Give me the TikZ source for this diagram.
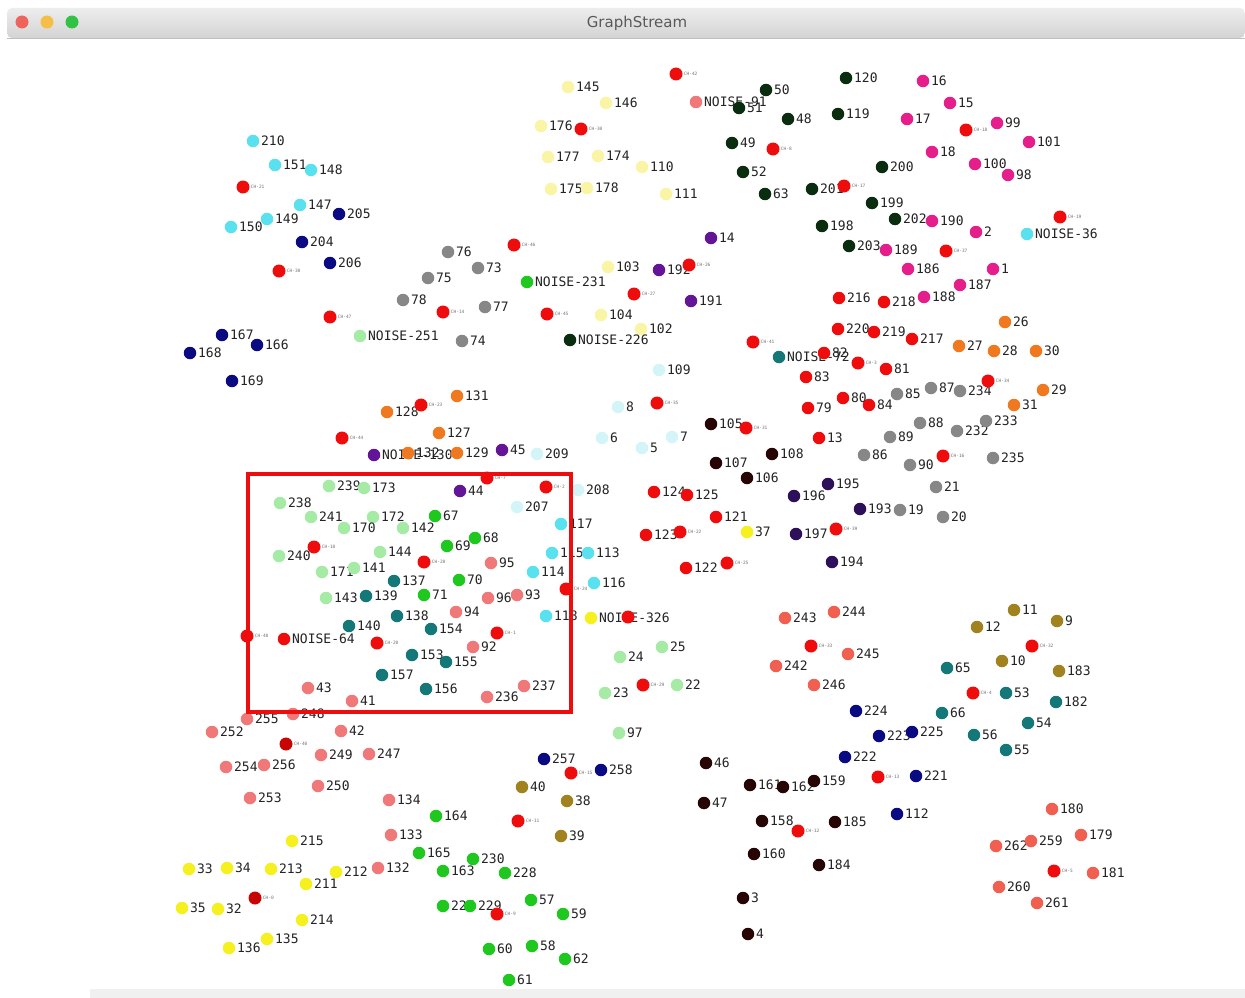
\documentclass[tikz,border=0pt]{standalone}
\usepackage{fontspec}
\newfontfamily\monofnt{DejaVu Sans Mono}
\newfontfamily\titlefnt{DejaVu Sans}

\definecolor{cCyan}{RGB}{90,225,240}
\definecolor{cNavy}{RGB}{10,10,130}
\definecolor{cGray}{RGB}{135,135,135}
\definecolor{cLYellow}{RGB}{250,245,165}
\definecolor{cRed}{RGB}{238,12,12}
\definecolor{cDkRed}{RGB}{200,5,5}
\definecolor{cDkGreen}{RGB}{10,45,15}
\definecolor{cPurple}{RGB}{100,20,150}
\definecolor{cMagenta}{RGB}{230,30,140}
\definecolor{cOrange}{RGB}{240,120,30}
\definecolor{cTeal}{RGB}{20,120,120}
\definecolor{cLCyan}{RGB}{212,245,248}
\definecolor{cLGreen}{RGB}{165,235,165}
\definecolor{cGreen}{RGB}{30,200,30}
\definecolor{cSalmon}{RGB}{240,120,120}
\definecolor{cBrown}{RGB}{40,5,5}
\definecolor{cIndigo}{RGB}{45,15,90}
\definecolor{cYellow}{RGB}{245,240,30}
\definecolor{cOlive}{RGB}{160,130,30}
\definecolor{cCoral}{RGB}{240,95,80}
\definecolor{txt}{RGB}{35,35,35}

\tikzset{
  dot/.style={circle, inner sep=0pt, minimum size=12.5pt, draw=none},
  lbl/.style={font=\monofnt\fontsize{13}{15}\selectfont, text=txt, inner sep=0pt, label distance=1.5pt},
  chlbl/.style={font=\monofnt\fontsize{4.5}{5}\selectfont, text=black!55, inner sep=0pt, label distance=1pt},
  frame/.style={draw=cRed, line width=4pt},
}

% one cluster of labelled dots: colour, name prefix, list x/y/label
\newcommand\dotgroup[3]{%
  \foreach \px/\py/\t in {#3} {
    \node[dot, fill=#1, label={[lbl]0:\t}] (#2\t) at (\px,\py) {};
  }}
% cluster heads: small red dots with tiny labels
\newcommand\headgroup[2]{%
  \foreach \px/\py/\t in {#2} {
    \node[dot, minimum size=13pt, fill=#1, label={[chlbl]0:\t}] (h\t) at (\px,\py) {};
  }}

\begin{document}
\begin{tikzpicture}[x=1pt, y=-1pt]
\useasboundingbox (0,0) rectangle (1245,998);
\fill[white] (0,0) rectangle (1245,998);

% window title bar
\shade[top color=black!7, bottom color=black!17, rounded corners=5pt]
  (7,38) -- (7,8) -- (1245,8) -- (1245,38) -- cycle;
\draw[black!25, line width=0.8pt] (7,38) -- (1245,38);
\node[dot, minimum size=13pt, fill={rgb,255:red,238;green,100;blue,92}] (close) at (22,22) {};
\node[dot, minimum size=13pt, fill={rgb,255:red,245;green,190;blue,70}] (minim) at (47,22) {};
\node[dot, minimum size=13pt, fill={rgb,255:red,50;green,195;blue,70}] (zoom) at (72,22) {};
\node[font=\titlefnt\fontsize{15}{18}\selectfont, text=black!65] (title) at (637,23) {GraphStream};
\fill[black!6] (90,989) rectangle (1245,998);

% clusters
\dotgroup{cSalmon}{sa}{696/102/NOISE-91, 491/563/95, 488/598/96, 517/595/93, 456/612/94, 473/647/92,
  524/686/237, 487/697/236, 308/688/43, 352/701/41, 247/719/255, 293/714/248, 212/732/252,
  341/731/42, 321/755/249, 369/754/247, 226/767/254, 264/765/256, 318/786/250, 250/798/253,
  389/800/134, 391/835/133, 378/868/132}
\dotgroup{cPurple}{pu}{711/238/14, 659/270/192, 691/301/191, 460/491/44, 502/450/45, 374/455/NOISE-130}
\dotgroup{cTeal}{te}{779/357/NOISE-72, 394/581/137, 366/596/139, 397/616/138, 349/626/140, 431/629/154,
  412/655/153, 446/662/155, 382/675/157, 426/689/156, 947/668/65, 942/713/66, 1006/693/53,
  974/735/56, 1006/750/55, 1028/723/54, 1056/702/182}
\dotgroup{cYellow}{ye}{747/532/37, 591/618/NOISE-326, 292/841/215, 189/869/33, 227/868/34, 271/869/213,
  336/872/212, 306/884/211, 182/908/35, 218/909/32, 302/920/214, 267/939/135, 229/948/136}
\dotgroup{cCyan}{cy}{253/141/210, 275/165/151, 311/170/148, 300/205/147, 267/219/149, 231/227/150,
  561/524/117, 552/553/115, 588/553/113, 533/572/114, 594/583/116, 546/616/118, 1027/234/NOISE-36}
\dotgroup{cNavy}{nv}{339/214/205, 302/242/204, 330/263/206, 222/335/167, 257/345/166, 190/353/168,
  232/381/169, 544/759/257, 601/770/258, 856/711/224, 879/736/223, 912/732/225, 845/757/222,
  916/776/221, 897/814/112}
\dotgroup{cGray}{gr}{448/252/76, 478/268/73, 428/278/75, 403/300/78, 485/307/77, 462/341/74,
  897/394/85, 931/388/87, 960/391/234, 920/423/88, 957/431/232, 986/421/233, 890/437/89,
  864/455/86, 910/465/90, 993/458/235, 936/487/21, 900/510/19, 943/517/20}
\dotgroup{cLYellow}{ly}{568/87/145, 606/103/146, 541/126/176, 548/157/177, 598/156/174, 642/167/110,
  551/189/175, 587/188/178, 666/194/111, 608/267/103, 601/315/104, 641/329/102}
\dotgroup{cDkGreen}{dg}{766/90/50, 739/108/51, 788/119/48, 846/78/120, 838/114/119, 732/143/49,
  743/172/52, 765/194/63, 882/167/200, 812/189/201, 872/203/199, 895/219/202, 822/226/198,
  849/246/203, 570/340/NOISE-226}
\dotgroup{cMagenta}{mg}{923/81/16, 950/103/15, 907/119/17, 997/123/99, 1029/142/101, 932/152/18,
  975/164/100, 1008/175/98, 932/221/190, 976/232/2, 886/250/189, 908/269/186, 993/269/1,
  960/285/187, 924/297/188}
\dotgroup{cOrange}{or}{1005/322/26, 959/346/27, 994/351/28, 1036/351/30, 1043/390/29, 1014/405/31,
  387/412/128, 457/396/131, 439/433/127, 408/453/132, 457/453/129}
\dotgroup{cLCyan}{lc}{659/370/109, 618/407/8, 602/438/6, 672/437/7, 642/448/5, 537/454/209,
  578/490/208, 517/507/207}
\dotgroup{cLGreen}{lg}{360/336/NOISE-251, 329/486/239, 364/488/173, 280/503/238, 311/517/241,
  373/517/172, 344/528/170, 403/528/142, 279/556/240, 380/552/144, 322/572/171, 354/568/141,
  326/598/143, 620/657/24, 662/647/25, 605/693/23, 677/685/22, 619/733/97}
\dotgroup{cGreen}{gn}{527/282/NOISE-231, 435/516/67, 447/546/69, 475/538/68, 459/580/70, 424/595/71,
  436/816/164, 419/853/165, 443/871/163, 473/859/230, 505/873/228, 443/906/227, 470/906/229,
  531/900/57, 563/914/59, 489/949/60, 532/946/58, 565/959/62, 509/980/61}
\dotgroup{cBrown}{br}{711/424/105, 716/463/107, 772/454/108, 747/478/106, 706/763/46, 704/803/47,
  750/785/161, 783/787/162, 814/781/159, 762/821/158, 835/822/185, 754/854/160, 819/865/184,
  743/898/3, 748/934/4}
\dotgroup{cIndigo}{in}{828/484/195, 794/496/196, 860/509/193, 796/534/197, 832/562/194}
\dotgroup{cOlive}{ol}{522/787/40, 567/801/38, 561/836/39, 1014/610/11, 1057/621/9, 977/627/12,
  1002/661/10, 1059/671/183}
\dotgroup{cCoral}{co}{785/618/243, 834/612/244, 848/654/245, 776/666/242, 814/685/246, 1052/809/180,
  1081/835/179, 996/846/262, 1031/841/259, 1093/873/181, 999/887/260, 1037/903/261}
\dotgroup{cRed}{rd}{839/298/216, 884/302/218, 838/329/220, 874/332/219, 912/339/217, 824/353/82,
  886/369/81, 806/377/83, 843/398/80, 869/405/84, 808/408/79, 819/438/13, 654/492/124,
  687/495/125, 716/517/121, 646/535/123, 686/568/122, 284/639/NOISE-64}

% cluster heads
\headgroup{cRed}{676/74/CH-42, 581/129/CH-30, 773/149/CH-8, 966/130/CH-18, 844/186/CH-17,
  1060/217/CH-19, 946/251/CH-37, 514/245/CH-46, 689/265/CH-26, 634/294/CH-27, 547/314/CH-45,
  443/312/CH-14, 330/317/CH-47, 243/187/CH-21, 279/271/CH-38, 753/342/CH-41, 858/363/CH-3,
  988/381/CH-34, 657/403/CH-35, 746/428/CH-31, 943/456/CH-16, 421/405/CH-23, 342/438/CH-44,
  487/478/CH-7, 546/487/CH-2, 680/532/CH-22, 727/563/CH-25, 836/529/CH-39, 314/547/CH-10,
  424/562/CH-28, 566/589/CH-24, 247/636/CH-48, 377/643/CH-20, 497/633/CH-1, 643/685/CH-29,
  811/646/CH-33, 1032/646/CH-32, 973/693/CH-4, 878/777/CH-13, 571/773/CH-15, 518/821/CH-11,
  798/831/CH-12, 1054/871/CH-5, 497/914/CH-9}
\headgroup{cDkRed}{286/744/CH-40, 255/898/CH-0}
\node[dot, minimum size=13pt, fill=cRed] (hCH-6) at (628,617) {};

% highlighted region
\draw[frame] (248,474) rectangle (571,712);
\end{tikzpicture}
\end{document}
